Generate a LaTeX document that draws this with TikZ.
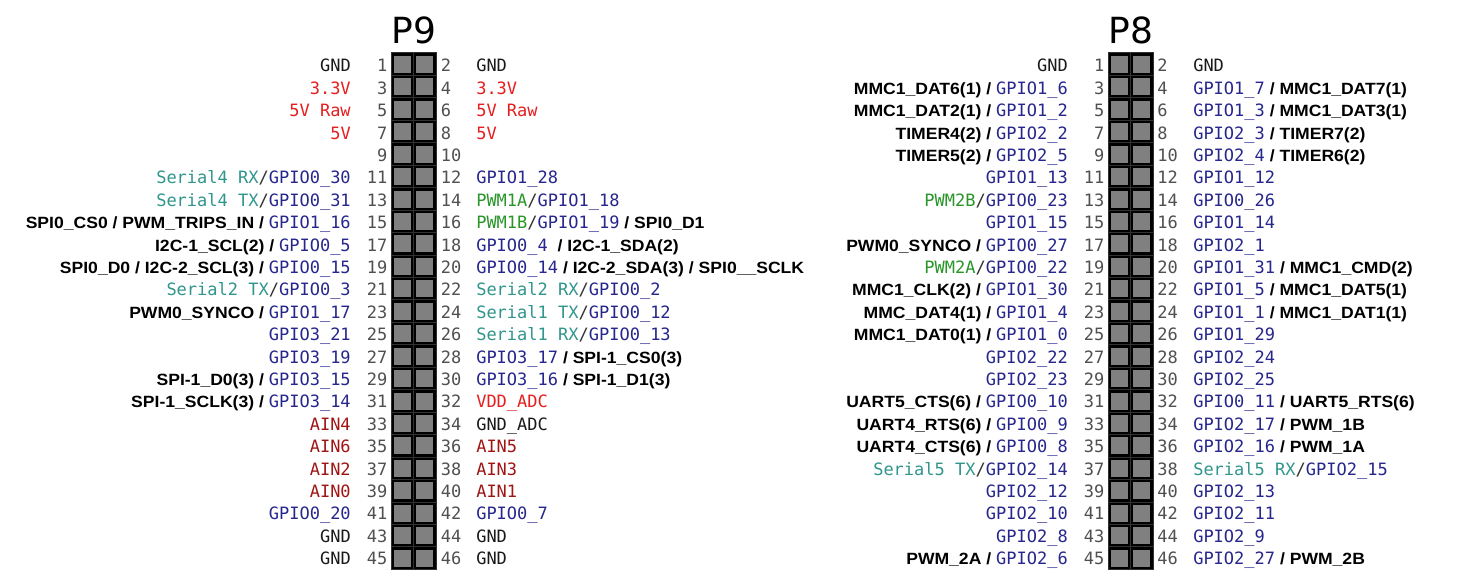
\documentclass[tikz,border=0pt]{standalone}
\usepackage{fontspec}
\newfontfamily\monof{DejaVu Sans Mono}
\newfontfamily\boldf{Liberation Sans}[FakeStretch=1.08]
\newfontfamily\titlef{DejaVu Sans}
\definecolor{gpio}{RGB}{38,38,140}
\definecolor{serial}{RGB}{48,150,140}
\definecolor{pwmc}{RGB}{40,150,40}
\definecolor{pwr}{RGB}{230,30,30}
\definecolor{ainc}{RGB}{160,20,20}
\definecolor{gndc}{RGB}{25,25,25}
\definecolor{numc}{RGB}{80,80,80}
\definecolor{slashc}{RGB}{50,50,50}
\definecolor{pingrey}{RGB}{128,128,128}
\definecolor{cellline}{RGB}{50,50,50}
\newcommand\pgp[1]{\textcolor{gpio}{#1}}
\newcommand\psr[1]{\textcolor{serial}{#1}}
\newcommand\ppw[1]{\textcolor{pwmc}{#1}}
\newcommand\prd[1]{\textcolor{pwr}{#1}}
\newcommand\pan[1]{\textcolor{ainc}{#1}}
\newcommand\pgn[1]{\textcolor{gndc}{#1}}
\newcommand\psl{\textcolor{slashc}{/}}
\newcommand\pbl[1]{{\boldf\bfseries\fontsize{12.2}{14}\selectfont\color{black}#1}}
\newcommand\ry[1]{71.8+22.4*(#1-1)}
\tikzset{
  lab/.style={inner sep=0pt, font=\monof\fontsize{12.75}{14}\selectfont},
  ll/.style={lab, anchor=base east},
  rl/.style={lab, anchor=base west},
  nl/.style={lab, anchor=base east, text=numc},
  nr/.style={lab, anchor=base west, text=numc},
  ttl/.style={inner sep=0pt, anchor=base, font=\titlef\fontsize{27}{30}\selectfont}
}
\begin{document}
\begin{tikzpicture}[x=0.75pt,y=-0.75pt]
\useasboundingbox[fill=white] (0,0) rectangle (1457,585);
% headers
\foreach \X in {391.5,1108.5}{
  \foreach \k in {1,...,23}{
    \foreach \c in {0,1}{
      \pgfmathsetmacro\xx{\X+\c*22.25}
      \pgfmathsetmacro\yy{53+(\k-1)*22.45}
      \fill[black] (\xx,\yy) rectangle ++(22.25,22.45);
      \draw[cellline, line width=0.75pt] (\xx,\yy) rectangle ++(22.25,22.45);
      \fill[pingrey] (\xx+2.7,\yy+2.8) rectangle ++(17,17);
    }
  }
}
\node[ttl] (t9) at (414,43.5) {P9};
\node[ttl] (t8) at (1131,43.5) {P8};
% pin numbers
\foreach \k in {1,...,23}{
  \pgfmathtruncatemacro\o{2*\k-1}
  \pgfmathtruncatemacro\e{2*\k}
  \node[nl] (p9n\o) at (387.5,{\ry{\k}}) {\o};
  \node[nr] (p9n\e) at (440.5,{\ry{\k}}) {\e};
  \node[nl] (p8n\o) at (1104.5,{\ry{\k}}) {\o};
  \node[nr] (p8n\e) at (1157,{\ry{\k}}) {\e};
}
% ---------- P9 left ----------
\node[ll] (p9l1) at (351,{\ry{1}}) {\pgn{GND}};
\node[ll] (p9l3) at (351,{\ry{2}}) {\prd{3.3V}};
\node[ll] (p9l5) at (351,{\ry{3}}) {\prd{5V Raw}};
\node[ll] (p9l7) at (351,{\ry{4}}) {\prd{5V}};
\node[ll] (p9l11) at (351,{\ry{6}}) {\psr{Serial4 RX}\psl\pgp{GPIO0\_30}};
\node[ll] (p9l13) at (351,{\ry{7}}) {\psr{Serial4 TX}\psl\pgp{GPIO0\_31}};
\node[ll] (p9l15) at (351,{\ry{8}}) {\pbl{SPI0\_CS0 / PWM\_TRIPS\_IN /\ }\pgp{GPIO1\_16}};
\node[ll] (p9l17) at (351,{\ry{9}}) {\pbl{I2C-1\_SCL(2) /\ }\pgp{GPIO0\_5}};
\node[ll] (p9l19) at (351,{\ry{10}}) {\pbl{SPI0\_D0 / I2C-2\_SCL(3) /\ }\pgp{GPIO0\_15}};
\node[ll] (p9l21) at (351,{\ry{11}}) {\psr{Serial2 TX}\psl\pgp{GPIO0\_3}};
\node[ll] (p9l23) at (351,{\ry{12}}) {\pbl{PWM0\_SYNCO /\ }\pgp{GPIO1\_17}};
\node[ll] (p9l25) at (351,{\ry{13}}) {\pgp{GPIO3\_21}};
\node[ll] (p9l27) at (351,{\ry{14}}) {\pgp{GPIO3\_19}};
\node[ll] (p9l29) at (351,{\ry{15}}) {\pbl{SPI-1\_D0(3) /\ }\pgp{GPIO3\_15}};
\node[ll] (p9l31) at (351,{\ry{16}}) {\pbl{SPI-1\_SCLK(3) /\ }\pgp{GPIO3\_14}};
\node[ll] (p9l33) at (351,{\ry{17}}) {\pan{AIN4}};
\node[ll] (p9l35) at (351,{\ry{18}}) {\pan{AIN6}};
\node[ll] (p9l37) at (351,{\ry{19}}) {\pan{AIN2}};
\node[ll] (p9l39) at (351,{\ry{20}}) {\pan{AIN0}};
\node[ll] (p9l41) at (351,{\ry{21}}) {\pgp{GPIO0\_20}};
\node[ll] (p9l43) at (351,{\ry{22}}) {\pgn{GND}};
\node[ll] (p9l45) at (351,{\ry{23}}) {\pgn{GND}};
% ---------- P9 right ----------
\node[rl] (p9r2) at (476,{\ry{1}}) {\pgn{GND}};
\node[rl] (p9r4) at (476,{\ry{2}}) {\prd{3.3V}};
\node[rl] (p9r6) at (476,{\ry{3}}) {\prd{5V Raw}};
\node[rl] (p9r8) at (476,{\ry{4}}) {\prd{5V}};
\node[rl] (p9r12) at (476,{\ry{6}}) {\pgp{GPIO1\_28}};
\node[rl] (p9r14) at (476,{\ry{7}}) {\ppw{PWM1A}\psl\pgp{GPIO1\_18}};
\node[rl] (p9r16) at (476,{\ry{8}}) {\ppw{PWM1B}\psl\pgp{GPIO1\_19}\pbl{\ / SPI0\_D1}};
\node[rl] (p9r18) at (476,{\ry{9}}) {\pgp{GPIO0\_4}\pbl{\ \ / I2C-1\_SDA(2)}};
\node[rl] (p9r20) at (476,{\ry{10}}) {\pgp{GPIO0\_14}\pbl{\ / I2C-2\_SDA(3) / SPI0\_\_SCLK}};
\node[rl] (p9r22) at (476,{\ry{11}}) {\psr{Serial2 RX}\psl\pgp{GPIO0\_2}};
\node[rl] (p9r24) at (476,{\ry{12}}) {\psr{Serial1 TX}\psl\pgp{GPIO0\_12}};
\node[rl] (p9r26) at (476,{\ry{13}}) {\psr{Serial1 RX}\psl\pgp{GPIO0\_13}};
\node[rl] (p9r28) at (476,{\ry{14}}) {\pgp{GPIO3\_17}\pbl{\ / SPI-1\_CS0(3)}};
\node[rl] (p9r30) at (476,{\ry{15}}) {\pgp{GPIO3\_16}\pbl{\ / SPI-1\_D1(3)}};
\node[rl] (p9r32) at (476,{\ry{16}}) {\prd{VDD\_ADC}};
\node[rl] (p9r34) at (476,{\ry{17}}) {\pgn{GND\_ADC}};
\node[rl] (p9r36) at (476,{\ry{18}}) {\pan{AIN5}};
\node[rl] (p9r38) at (476,{\ry{19}}) {\pan{AIN3}};
\node[rl] (p9r40) at (476,{\ry{20}}) {\pan{AIN1}};
\node[rl] (p9r42) at (476,{\ry{21}}) {\pgp{GPIO0\_7}};
\node[rl] (p9r44) at (476,{\ry{22}}) {\pgn{GND}};
\node[rl] (p9r46) at (476,{\ry{23}}) {\pgn{GND}};
% ---------- P8 left ----------
\node[ll] (p8l1) at (1068,{\ry{1}}) {\pgn{GND}};
\node[ll] (p8l3) at (1068,{\ry{2}}) {\pbl{MMC1\_DAT6(1) /\ }\pgp{GPIO1\_6}};
\node[ll] (p8l5) at (1068,{\ry{3}}) {\pbl{MMC1\_DAT2(1) /\ }\pgp{GPIO1\_2}};
\node[ll] (p8l7) at (1068,{\ry{4}}) {\pbl{TIMER4(2) /\ }\pgp{GPIO2\_2}};
\node[ll] (p8l9) at (1068,{\ry{5}}) {\pbl{TIMER5(2) /\ }\pgp{GPIO2\_5}};
\node[ll] (p8l11) at (1068,{\ry{6}}) {\pgp{GPIO1\_13}};
\node[ll] (p8l13) at (1068,{\ry{7}}) {\ppw{PWM2B}\psl\pgp{GPIO0\_23}};
\node[ll] (p8l15) at (1068,{\ry{8}}) {\pgp{GPIO1\_15}};
\node[ll] (p8l17) at (1068,{\ry{9}}) {\pbl{PWM0\_SYNCO /\ }\pgp{GPIO0\_27}};
\node[ll] (p8l19) at (1068,{\ry{10}}) {\ppw{PWM2A}\psl\pgp{GPIO0\_22}};
\node[ll] (p8l21) at (1068,{\ry{11}}) {\pbl{MMC1\_CLK(2) /\ }\pgp{GPIO1\_30}};
\node[ll] (p8l23) at (1068,{\ry{12}}) {\pbl{MMC\_DAT4(1) /\ }\pgp{GPIO1\_4}};
\node[ll] (p8l25) at (1068,{\ry{13}}) {\pbl{MMC1\_DAT0(1) /\ }\pgp{GPIO1\_0}};
\node[ll] (p8l27) at (1068,{\ry{14}}) {\pgp{GPIO2\_22}};
\node[ll] (p8l29) at (1068,{\ry{15}}) {\pgp{GPIO2\_23}};
\node[ll] (p8l31) at (1068,{\ry{16}}) {\pbl{UART5\_CTS(6) /\ }\pgp{GPIO0\_10}};
\node[ll] (p8l33) at (1068,{\ry{17}}) {\pbl{UART4\_RTS(6) /\ }\pgp{GPIO0\_9}};
\node[ll] (p8l35) at (1068,{\ry{18}}) {\pbl{UART4\_CTS(6) /\ }\pgp{GPIO0\_8}};
\node[ll] (p8l37) at (1068,{\ry{19}}) {\psr{Serial5 TX}\psl\pgp{GPIO2\_14}};
\node[ll] (p8l39) at (1068,{\ry{20}}) {\pgp{GPIO2\_12}};
\node[ll] (p8l41) at (1068,{\ry{21}}) {\pgp{GPIO2\_10}};
\node[ll] (p8l43) at (1068,{\ry{22}}) {\pgp{GPIO2\_8}};
\node[ll] (p8l45) at (1068,{\ry{23}}) {\pbl{PWM\_2A /\ }\pgp{GPIO2\_6}};
% ---------- P8 right ----------
\node[rl] (p8r2) at (1193,{\ry{1}}) {\pgn{GND}};
\node[rl] (p8r4) at (1193,{\ry{2}}) {\pgp{GPIO1\_7}\pbl{\ / MMC1\_DAT7(1)}};
\node[rl] (p8r6) at (1193,{\ry{3}}) {\pgp{GPIO1\_3}\pbl{\ / MMC1\_DAT3(1)}};
\node[rl] (p8r8) at (1193,{\ry{4}}) {\pgp{GPIO2\_3}\pbl{\ / TIMER7(2)}};
\node[rl] (p8r10) at (1193,{\ry{5}}) {\pgp{GPIO2\_4}\pbl{\ / TIMER6(2)}};
\node[rl] (p8r12) at (1193,{\ry{6}}) {\pgp{GPIO1\_12}};
\node[rl] (p8r14) at (1193,{\ry{7}}) {\pgp{GPIO0\_26}};
\node[rl] (p8r16) at (1193,{\ry{8}}) {\pgp{GPIO1\_14}};
\node[rl] (p8r18) at (1193,{\ry{9}}) {\pgp{GPIO2\_1}};
\node[rl] (p8r20) at (1193,{\ry{10}}) {\pgp{GPIO1\_31}\pbl{\ / MMC1\_CMD(2)}};
\node[rl] (p8r22) at (1193,{\ry{11}}) {\pgp{GPIO1\_5}\pbl{\ / MMC1\_DAT5(1)}};
\node[rl] (p8r24) at (1193,{\ry{12}}) {\pgp{GPIO1\_1}\pbl{\ / MMC1\_DAT1(1)}};
\node[rl] (p8r26) at (1193,{\ry{13}}) {\pgp{GPIO1\_29}};
\node[rl] (p8r28) at (1193,{\ry{14}}) {\pgp{GPIO2\_24}};
\node[rl] (p8r30) at (1193,{\ry{15}}) {\pgp{GPIO2\_25}};
\node[rl] (p8r32) at (1193,{\ry{16}}) {\pgp{GPIO0\_11}\pbl{\ / UART5\_RTS(6)}};
\node[rl] (p8r34) at (1193,{\ry{17}}) {\pgp{GPIO2\_17}\pbl{\ / PWM\_1B}};
\node[rl] (p8r36) at (1193,{\ry{18}}) {\pgp{GPIO2\_16}\pbl{\ / PWM\_1A}};
\node[rl] (p8r38) at (1193,{\ry{19}}) {\psr{Serial5 RX}\psl\pgp{GPIO2\_15}};
\node[rl] (p8r40) at (1193,{\ry{20}}) {\pgp{GPIO2\_13}};
\node[rl] (p8r42) at (1193,{\ry{21}}) {\pgp{GPIO2\_11}};
\node[rl] (p8r44) at (1193,{\ry{22}}) {\pgp{GPIO2\_9}};
\node[rl] (p8r46) at (1193,{\ry{23}}) {\pgp{GPIO2\_27}\pbl{\ / PWM\_2B}};
\end{tikzpicture}
\end{document}
